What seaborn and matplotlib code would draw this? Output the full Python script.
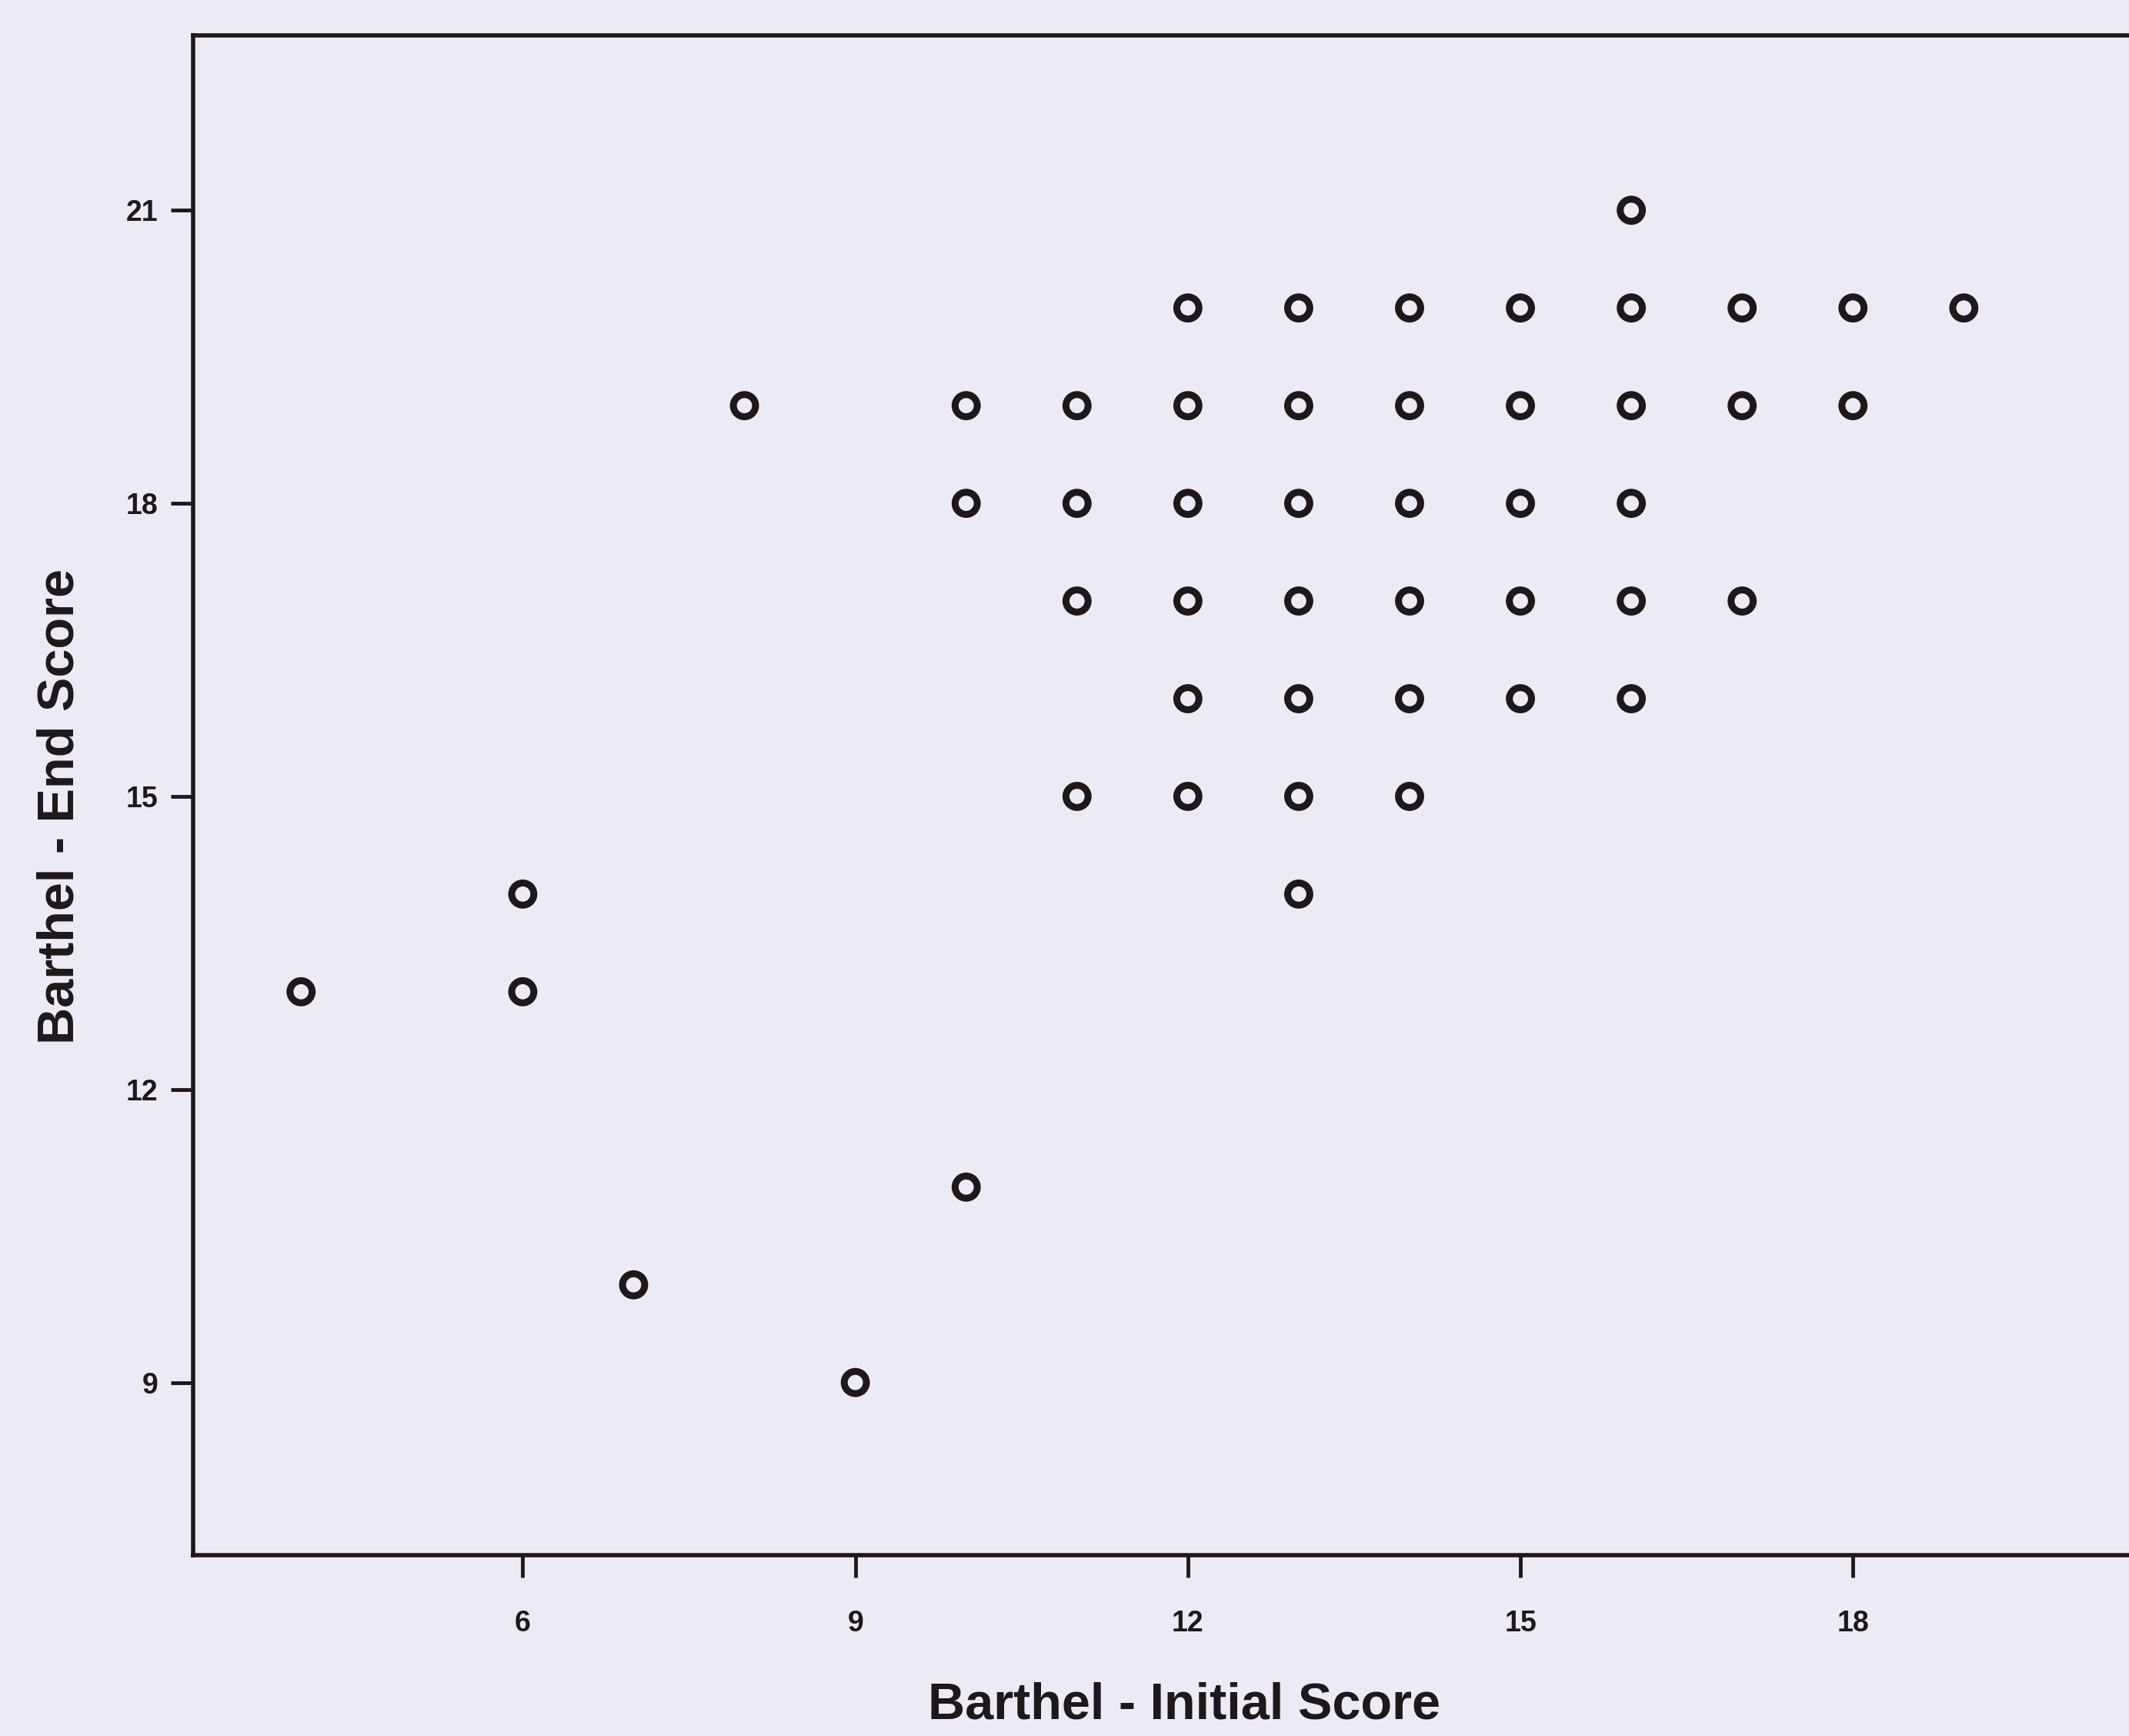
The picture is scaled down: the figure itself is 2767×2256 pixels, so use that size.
import matplotlib
matplotlib.use("Agg")
import matplotlib.pyplot as plt
import seaborn as sns
import pandas as pd

# Data
initial_score = [4, 6, 6, 7, 8, 9,
                 10, 10, 10,
                 11, 11, 11, 11,
                 12, 12, 12, 12, 12, 12,
                 13, 13, 13, 13, 13, 13, 13,
                 14, 14, 14, 14, 14, 14,
                 15, 15, 15, 15, 15,
                 16, 16, 16, 16, 16, 16,
                 17, 17, 17,
                 18, 18,
                 19]
end_score = [13, 14, 13, 10, 19, 9,
             19, 18, 11,
             19, 18, 17, 15,
             20, 19, 18, 17, 16, 15,
             20, 19, 18, 17, 16, 15, 14,
             20, 19, 18, 17, 16, 15,
             20, 19, 18, 17, 16,
             21, 20, 19, 18, 17, 16,
             20, 19, 17,
             20, 19,
             20]
x_ticks = [6, 9, 12, 15, 18]
y_ticks = [9, 12, 15, 18, 21]
x_label = "Barthel - Initial Score"
y_label = "Barthel - End Score"

df = pd.DataFrame({"initial": initial_score, "end": end_score})

sns.set_theme(style="white")
plt.rcParams["font.family"] = ["Liberation Sans", "DejaVu Sans"]

bg = "#ecebf5"
ink = "#1e171c"

fig = plt.figure(figsize=(27.67, 22.56), dpi=100, facecolor=bg)
ax = fig.add_axes([0.0907, 0.1042, 0.9093, 0.8754])
ax.set_facecolor(bg)

sns.scatterplot(data=df, x="initial", y="end", ax=ax, marker="o",
                s=430, facecolor="none", edgecolor=ink, linewidth=6.5,
                legend=False)

ax.set_xlim(3.026, 20.49)
ax.set_ylim(7.233, 22.79)
ax.set_xticks(x_ticks)
ax.set_yticks(y_ticks)
ax.set_xticklabels([str(t) for t in x_ticks])
ax.set_yticklabels([str(t) for t in y_ticks])

for side in ["left", "bottom", "top"]:
    ax.spines[side].set_visible(True)
    ax.spines[side].set_color(ink)
    ax.spines[side].set_linewidth(4)
ax.spines["right"].set_visible(False)

ax.tick_params(axis="x", direction="out", length=21, width=3.5, color=ink,
               pad=30, labelsize=27, labelcolor=ink, bottom=True, top=False)
ax.tick_params(axis="y", direction="out", length=21, width=3.5, color=ink,
               pad=12, labelsize=27, labelcolor=ink, left=True, right=False)
for lab in ax.get_xticklabels() + ax.get_yticklabels():
    lab.set_fontweight("bold")

ax.set_xlabel(x_label, fontsize=48, fontweight="bold", color=ink)
ax.set_ylabel(y_label, fontsize=48, fontweight="bold", color=ink)
ax.xaxis.set_label_coords(0.512, -0.0835)
ax.yaxis.set_label_coords(-0.0564, 0.4926)
ax.grid(False)

fig.savefig("out.png", dpi=100, facecolor=bg)
